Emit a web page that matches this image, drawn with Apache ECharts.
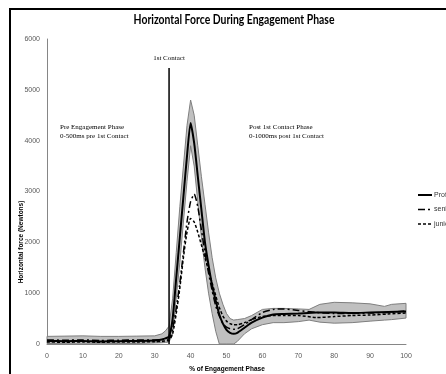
<!DOCTYPE html>
<html>
<head>
<meta charset="utf-8">
<script src="https://cdn.jsdelivr.net/npm/echarts@6/dist/echarts.min.js"></script>
<style>html,body{margin:0;padding:0;background:#fff;}#c{width:446px;height:374px;}</style>
</head>
<body>
<div id="c"></div>
<script>
// ---- data ----
const seriesNames = ['Professional', 'senior', 'junior'];
const xTicks = [0, 10, 20, 30, 40, 50, 60, 70, 80, 90, 100];
const yTicks = [0, 1000, 2000, 3000, 4000, 5000, 6000];

const curveX = [0, 5, 10, 15, 20, 25, 30, 32, 33, 34, 35, 36, 37, 38, 39, 40, 41, 42, 43, 44, 45, 46, 47, 48, 49, 50, 51, 52, 53, 55, 57, 60, 63, 66, 70, 75, 80, 85, 90, 95, 100];
const proY = [60, 55, 60, 50, 55, 60, 70, 90, 110, 150, 500, 1300, 2100, 2900, 3700, 4350, 3950, 3300, 2650, 2000, 1550, 1150, 850, 580, 400, 280, 220, 200, 220, 320, 420, 520, 580, 590, 600, 620, 620, 610, 620, 630, 640];
const seniorY = [80, 75, 80, 70, 75, 80, 80, 85, 90, 100, 300, 700, 1200, 1800, 2400, 2800, 2950, 2700, 2250, 1800, 1400, 1050, 750, 550, 400, 330, 300, 290, 300, 380, 480, 620, 680, 690, 660, 620, 600, 600, 610, 620, 650];
const juniorY = [40, 35, 40, 35, 40, 40, 45, 50, 60, 70, 200, 600, 1100, 1700, 2200, 2470, 2400, 2200, 1950, 1700, 1450, 1200, 950, 720, 550, 450, 400, 380, 380, 420, 480, 540, 560, 560, 560, 520, 540, 560, 570, 590, 610];

const bandX = [0, 5, 10, 15, 20, 25, 30, 32, 33, 34, 35, 36, 37, 38, 39, 40, 41, 42, 43, 44, 45, 46, 47, 48, 49, 50, 51, 52, 53, 55, 57, 60, 63, 66, 70, 73, 76, 80, 85, 90, 94, 96, 100];
const bandUpper = [150, 155, 160, 150, 150, 155, 160, 200, 260, 350, 900, 1800, 2700, 3500, 4300, 4800, 4500, 3900, 3300, 2750, 2200, 1700, 1300, 1000, 780, 600, 500, 470, 480, 500, 560, 680, 700, 700, 690, 680, 780, 820, 810, 790, 740, 780, 800];
const bandLower = [10, 5, 0, 5, 10, 10, 20, 25, 30, 40, 200, 900, 1600, 2400, 3200, 3900, 3500, 2800, 2100, 1500, 1000, 600, 250, 0, 0, 0, 0, 0, 50, 200, 300, 380, 420, 420, 440, 470, 430, 410, 420, 450, 470, 480, 510];

const contactX = 34;
const contactTop = 5430;

// ---- build ----
const pairs = (xs, ys) => xs.map((x, i) => [x, ys[i]]);
const axisGray = '#868686';
const labelGray = '#595959';

const chart = echarts.init(document.getElementById('c'));

function renderBand(params, api) {
  const top = bandX.map((x, i) => api.coord([x, bandUpper[i]]));
  const bottom = bandX.map((x, i) => api.coord([x, bandLower[i]])).reverse();
  return {
    type: 'polygon',
    shape: { points: top.concat(bottom) },
    style: { fill: '#c0c0c0', stroke: '#7f7f7f', lineWidth: 1 }
  };
}

const legendStyles = [
  { width: 2, dash: null },
  { width: 1.5, dash: [7, 3, 2, 3] },
  { width: 1.5, dash: [3, 2] }
];
const legendGraphics = [];
seriesNames.forEach((name, i) => {
  const y = 195 + i * 14.5;
  legendGraphics.push({ type: 'line', shape: { x1: 418, y1: y, x2: 432, y2: y },
    style: { stroke: '#000', lineWidth: legendStyles[i].width, lineDash: legendStyles[i].dash } });
  legendGraphics.push({ type: 'text', x: 434, y: y, style: { text: name, fontSize: 7, fontFamily: 'Liberation Sans',
    fill: '#333', textAlign: 'left', textVerticalAlign: 'middle' } });
});

chart.setOption({
  animation: false,
  backgroundColor: '#fff',
  grid: { left: 47, right: 40, top: 39, bottom: 30, containLabel: false },
  xAxis: {
    type: 'value', min: xTicks[0], max: xTicks[xTicks.length - 1], interval: 10,
    axisLine: { show: true, lineStyle: { color: axisGray, width: 1 } },
    axisTick: { show: false }, splitLine: { show: false },
    axisLabel: { fontSize: 7, color: labelGray, margin: 9, fontFamily: 'Liberation Sans', formatter: v => String(v) }
  },
  yAxis: {
    type: 'value', min: yTicks[0], max: yTicks[yTicks.length - 1], interval: 1000,
    axisLine: { show: true, lineStyle: { color: axisGray, width: 1 } },
    axisTick: { show: false }, splitLine: { show: false },
    axisLabel: { fontSize: 7, color: labelGray, margin: 7, fontFamily: 'Liberation Sans', formatter: v => String(v) }
  },
  series: [
    { name: 'band', type: 'custom', renderItem: renderBand, data: [0], z: 1, silent: true },
    { name: seriesNames[0], type: 'line', data: pairs(curveX, proY), showSymbol: false, symbol: 'none', smooth: 0.2,
      lineStyle: { color: '#000', width: 2 }, itemStyle: { color: '#000' }, z: 3 },
    { name: seriesNames[1], type: 'line', data: pairs(curveX, seniorY), showSymbol: false, symbol: 'none', smooth: 0.2,
      lineStyle: { color: '#000', width: 1.5, type: [7, 3, 2, 3] }, itemStyle: { color: '#000' }, z: 3 },
    { name: seriesNames[2], type: 'line', data: pairs(curveX, juniorY), showSymbol: false, symbol: 'none', smooth: 0.2,
      lineStyle: { color: '#000', width: 1.5, type: [3, 2] }, itemStyle: { color: '#000' }, z: 3 },
    { name: 'contact', type: 'line', data: [[contactX, 0], [contactX, contactTop]], showSymbol: false, symbol: 'none',
      lineStyle: { color: '#000', width: 1.5 }, z: 4 }
  ],
  graphic: [
    { type: 'rect', shape: { x: 10, y: 9, width: 600, height: 500 }, style: { fill: null, stroke: '#000', lineWidth: 2 }, z: 10 },
    { type: 'text', x: 234, y: 20, scaleX: 0.8, style: { text: 'Horizontal Force During Engagement Phase', fontSize: 13, fontWeight: 'bold',
      fontFamily: 'Lato', fill: '#000', textAlign: 'center', textVerticalAlign: 'middle' } },
    { type: 'text', x: 21, y: 242, rotation: Math.PI / 2, style: { text: 'Horizontal force (Newtons)', fontSize: 6.5, fontWeight: 'bold',
      fontFamily: 'Liberation Sans', fill: '#000', textAlign: 'center', textVerticalAlign: 'middle' } },
    { type: 'text', x: 227, y: 369, style: { text: '% of Engagement Phase', fontSize: 6.5, fontWeight: 'bold',
      fontFamily: 'Liberation Sans', fill: '#000', textAlign: 'center', textVerticalAlign: 'middle' } },
    { type: 'text', x: 169, y: 58, style: { text: '1st Contact', fontSize: 7, fontFamily: 'Liberation Serif', fill: '#000',
      textAlign: 'center', textVerticalAlign: 'middle' } },
    { type: 'text', x: 60, y: 127, style: { text: 'Pre Engagement Phase', fontSize: 7, fontFamily: 'Liberation Serif', fill: '#000',
      textAlign: 'left', textVerticalAlign: 'middle' } },
    { type: 'text', x: 60, y: 136, style: { text: '0-500ms pre 1st Contact', fontSize: 7, fontFamily: 'Liberation Serif', fill: '#000',
      textAlign: 'left', textVerticalAlign: 'middle' } },
    { type: 'text', x: 249, y: 127, style: { text: 'Post 1st Contact Phase', fontSize: 7, fontFamily: 'Liberation Serif', fill: '#000',
      textAlign: 'left', textVerticalAlign: 'middle' } },
    { type: 'text', x: 249, y: 136, style: { text: '0-1000ms post 1st Contact', fontSize: 7, fontFamily: 'Liberation Serif', fill: '#000',
      textAlign: 'left', textVerticalAlign: 'middle' } }
  ].concat(legendGraphics)
});
</script>
</body>
</html>
